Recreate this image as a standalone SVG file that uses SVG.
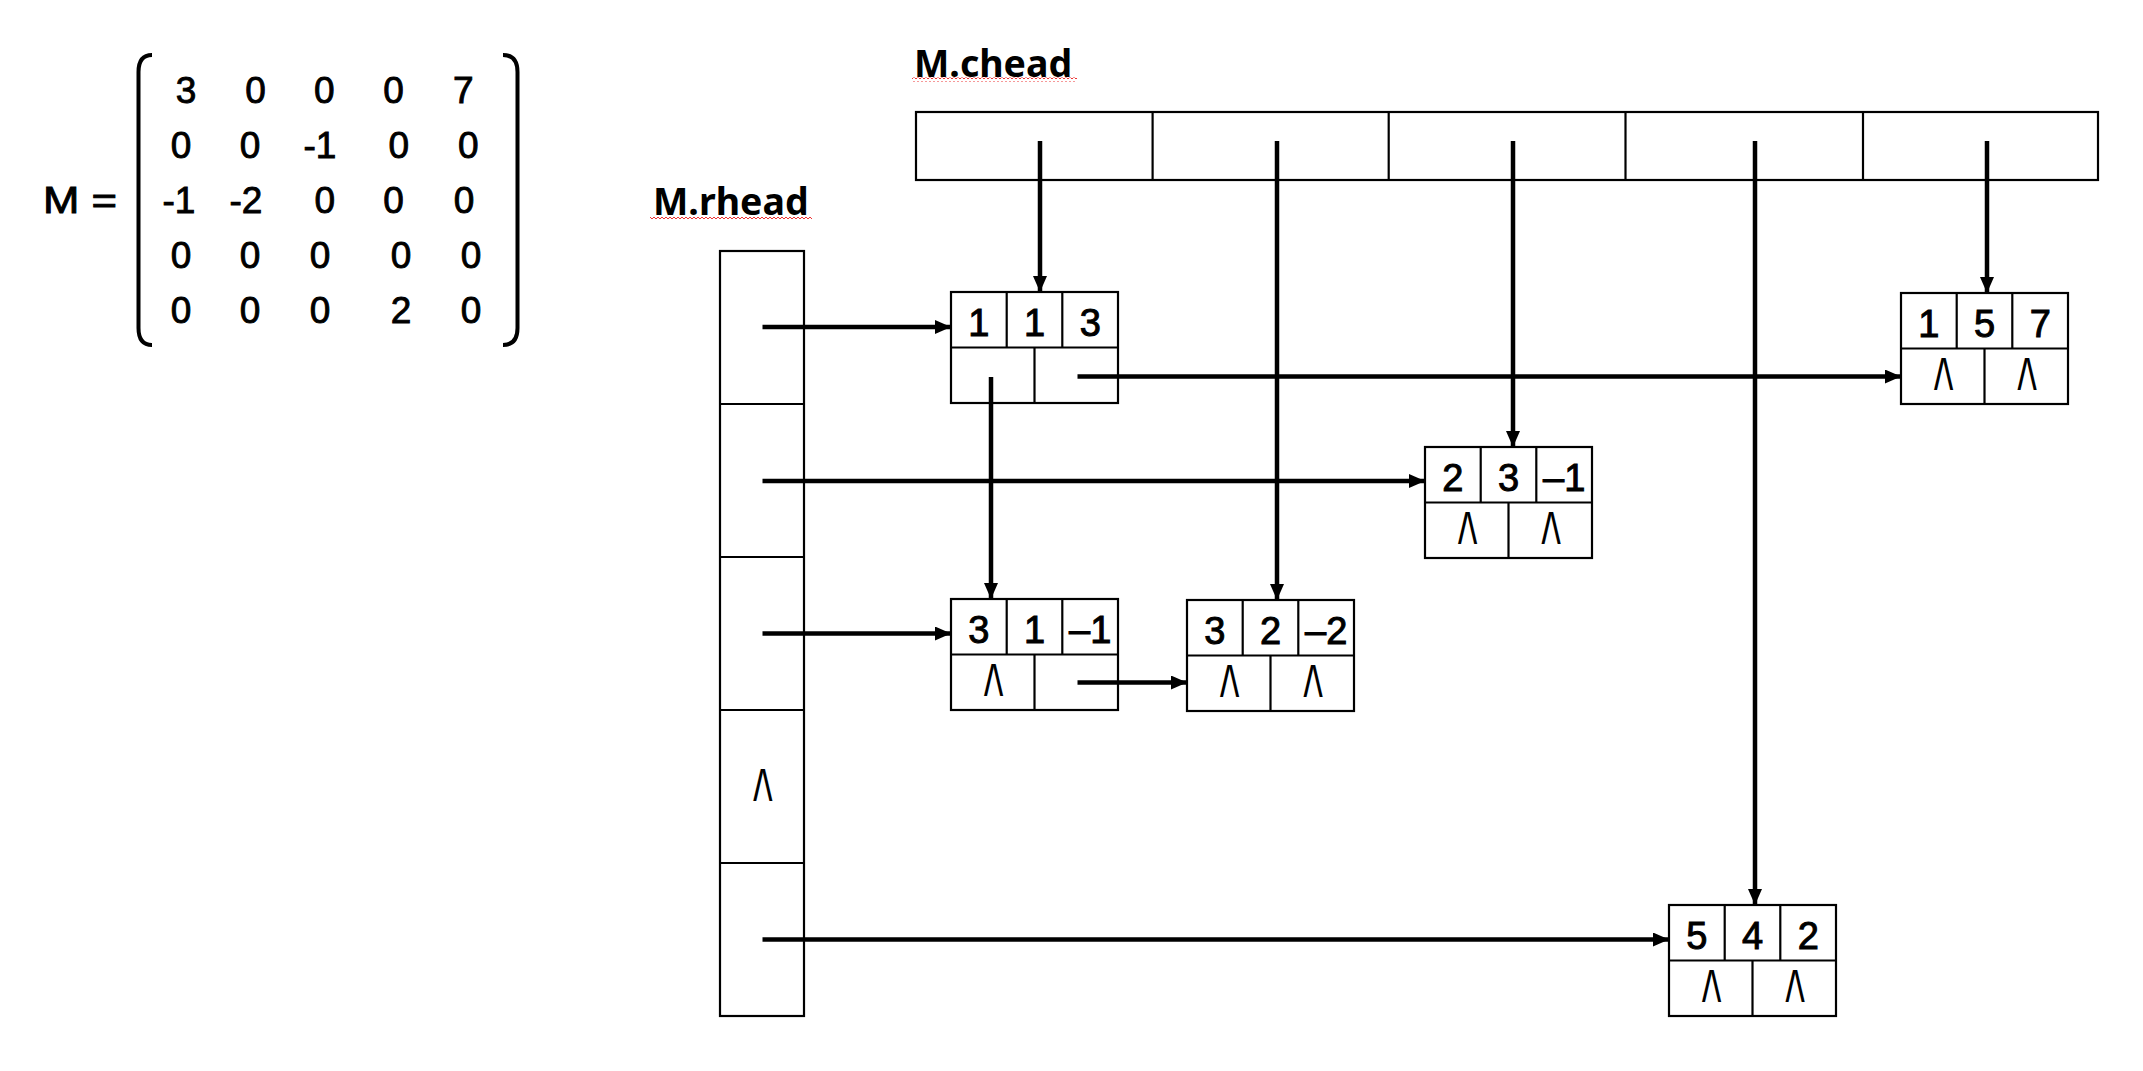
<svg xmlns="http://www.w3.org/2000/svg" width="2143" height="1071" viewBox="0 0 2143 1071">
<style>
.box{fill:#fff;stroke:#000;stroke-width:2.2}
.div{stroke:#000;stroke-width:2.2}
.t{font-family:"Liberation Sans",Arial,sans-serif;font-size:38px;fill:#000;stroke:#000;stroke-width:1;text-anchor:middle}
.m{font-family:"Liberation Sans",Arial,sans-serif;font-size:37px;fill:#000;stroke:#000;stroke-width:0.9;text-anchor:middle}
.lbl{font-family:"Noto Sans","Liberation Sans",sans-serif;font-size:37.5px;font-weight:bold;fill:#000}
.nil{font-family:"Liberation Sans",Arial,sans-serif;font-size:44px;letter-spacing:-2px;fill:#000;text-anchor:middle}
.arr{stroke:#000;stroke-width:4.5;fill:none}
.br{stroke:#000;stroke-width:4;fill:none}
</style>
<defs>
<marker id="ah" markerUnits="userSpaceOnUse" markerWidth="16" markerHeight="14" refX="16" refY="7" orient="auto">
<path d="M0,0 L16,7 L0,14 z" fill="#000"/>
</marker>
<pattern id="wavy" width="4" height="4" patternUnits="userSpaceOnUse">
<path d="M0,3 L2,1 L4,3" stroke="#e33" stroke-width="1" fill="none"/>
</pattern>
</defs>
<rect width="2143" height="1071" fill="#fff"/>

<g id="matrix">
<text class="m" x="80" y="213.3" textLength="74" lengthAdjust="spacingAndGlyphs">M =</text>
<path class="br" d="M152,55 Q138.5,55 138.5,72 L138.5,328 Q138.5,345 152,345"/>
<path class="br" d="M503,55 Q517.5,55 517.5,72 L517.5,328 Q517.5,345 503,345"/>
<text class="m" x="186" y="103.3">3</text><text class="m" x="255.5" y="103.3">0</text><text class="m" x="324.4" y="103.3">0</text><text class="m" x="393.6" y="103.3">0</text><text class="m" x="463.2" y="103.3">7</text>
<text class="m" x="181" y="158.3">0</text><text class="m" x="250" y="158.3">0</text><text class="m" x="320" y="158.3">-1</text><text class="m" x="398.8" y="158.3">0</text><text class="m" x="468.3" y="158.3">0</text>
<text class="m" x="179" y="213.3">-1</text><text class="m" x="246" y="213.3">-2</text><text class="m" x="324.7" y="213.3">0</text><text class="m" x="393.6" y="213.3">0</text><text class="m" x="464" y="213.3">0</text>
<text class="m" x="181" y="268.3">0</text><text class="m" x="250" y="268.3">0</text><text class="m" x="320" y="268.3">0</text><text class="m" x="401" y="268.3">0</text><text class="m" x="471" y="268.3">0</text>
<text class="m" x="181" y="323.3">0</text><text class="m" x="250" y="323.3">0</text><text class="m" x="320" y="323.3">0</text><text class="m" x="401" y="323.3">2</text><text class="m" x="471" y="323.3">0</text>
</g>

<g id="chead">
<text class="lbl" x="914" y="76.7">M.chead</text>
<rect x="912" y="77.5" width="165" height="4" fill="url(#wavy)"/>
<rect class="box" x="916" y="112" width="1182" height="68"/>
<line class="div" x1="1152.6" y1="112" x2="1152.6" y2="180"/>
<line class="div" x1="1388.7" y1="112" x2="1388.7" y2="180"/>
<line class="div" x1="1625.5" y1="112" x2="1625.5" y2="180"/>
<line class="div" x1="1863" y1="112" x2="1863" y2="180"/>
</g>

<g id="rhead">
<text class="lbl" x="653" y="215">M.rhead</text>
<rect x="650" y="215.5" width="162" height="4" fill="url(#wavy)"/>
<rect class="box" x="720" y="251" width="84" height="765"/>
<line class="div" x1="720" y1="404" x2="804" y2="404"/>
<line class="div" x1="720" y1="557" x2="804" y2="557"/>
<line class="div" x1="720" y1="710" x2="804" y2="710"/>
<line class="div" x1="720" y1="863" x2="804" y2="863"/>
<text class="nil" transform="translate(762,801) scale(0.85,1)">/\</text>
</g>

<g id="nodeA" transform="translate(951,292)">
<rect class="box" x="0" y="0" width="167" height="111"/>
<line class="div" x1="0" y1="55.5" x2="167" y2="55.5"/>
<line class="div" x1="55.7" y1="0" x2="55.7" y2="55.5"/>
<line class="div" x1="111.3" y1="0" x2="111.3" y2="55.5"/>
<line class="div" x1="83.5" y1="55.5" x2="83.5" y2="111"/>
<text class="t" x="27.8" y="44">1</text><text class="t" x="83.5" y="44">1</text><text class="t" x="139.2" y="44">3</text>
</g>

<g id="nodeB" transform="translate(1425,447)">
<rect class="box" x="0" y="0" width="167" height="111"/>
<line class="div" x1="0" y1="55.5" x2="167" y2="55.5"/>
<line class="div" x1="55.7" y1="0" x2="55.7" y2="55.5"/>
<line class="div" x1="111.3" y1="0" x2="111.3" y2="55.5"/>
<line class="div" x1="83.5" y1="55.5" x2="83.5" y2="111"/>
<text class="t" x="27.8" y="44">2</text><text class="t" x="83.5" y="44">3</text><text class="t" x="139.2" y="44">–1</text>
<text class="nil" transform="translate(41.75,97) scale(0.85,1)">/\</text><text class="nil" transform="translate(125.25,97) scale(0.85,1)">/\</text>
</g>

<g id="nodeC" transform="translate(951,599)">
<rect class="box" x="0" y="0" width="167" height="111"/>
<line class="div" x1="0" y1="55.5" x2="167" y2="55.5"/>
<line class="div" x1="55.7" y1="0" x2="55.7" y2="55.5"/>
<line class="div" x1="111.3" y1="0" x2="111.3" y2="55.5"/>
<line class="div" x1="83.5" y1="55.5" x2="83.5" y2="111"/>
<text class="t" x="27.8" y="44">3</text><text class="t" x="83.5" y="44">1</text><text class="t" x="139.2" y="44">–1</text>
<text class="nil" transform="translate(41.75,97) scale(0.85,1)">/\</text>
</g>

<g id="nodeD" transform="translate(1187,600)">
<rect class="box" x="0" y="0" width="167" height="111"/>
<line class="div" x1="0" y1="55.5" x2="167" y2="55.5"/>
<line class="div" x1="55.7" y1="0" x2="55.7" y2="55.5"/>
<line class="div" x1="111.3" y1="0" x2="111.3" y2="55.5"/>
<line class="div" x1="83.5" y1="55.5" x2="83.5" y2="111"/>
<text class="t" x="27.8" y="44">3</text><text class="t" x="83.5" y="44">2</text><text class="t" x="139.2" y="44">–2</text>
<text class="nil" transform="translate(41.75,97) scale(0.85,1)">/\</text><text class="nil" transform="translate(125.25,97) scale(0.85,1)">/\</text>
</g>

<g id="nodeE" transform="translate(1901,293)">
<rect class="box" x="0" y="0" width="167" height="111"/>
<line class="div" x1="0" y1="55.5" x2="167" y2="55.5"/>
<line class="div" x1="55.7" y1="0" x2="55.7" y2="55.5"/>
<line class="div" x1="111.3" y1="0" x2="111.3" y2="55.5"/>
<line class="div" x1="83.5" y1="55.5" x2="83.5" y2="111"/>
<text class="t" x="27.8" y="44">1</text><text class="t" x="83.5" y="44">5</text><text class="t" x="139.2" y="44">7</text>
<text class="nil" transform="translate(41.75,97) scale(0.85,1)">/\</text><text class="nil" transform="translate(125.25,97) scale(0.85,1)">/\</text>
</g>

<g id="nodeF" transform="translate(1669,905)">
<rect class="box" x="0" y="0" width="167" height="111"/>
<line class="div" x1="0" y1="55.5" x2="167" y2="55.5"/>
<line class="div" x1="55.7" y1="0" x2="55.7" y2="55.5"/>
<line class="div" x1="111.3" y1="0" x2="111.3" y2="55.5"/>
<line class="div" x1="83.5" y1="55.5" x2="83.5" y2="111"/>
<text class="t" x="27.8" y="44">5</text><text class="t" x="83.5" y="44">4</text><text class="t" x="139.2" y="44">2</text>
<text class="nil" transform="translate(41.75,97) scale(0.85,1)">/\</text><text class="nil" transform="translate(125.25,97) scale(0.85,1)">/\</text>
</g>

<g id="connectors">
<line class="arr" x1="1040" y1="141" x2="1040" y2="292" marker-end="url(#ah)"/>
<line class="arr" x1="1277" y1="141" x2="1277" y2="600" marker-end="url(#ah)"/>
<line class="arr" x1="1513" y1="141" x2="1513" y2="447" marker-end="url(#ah)"/>
<line class="arr" x1="1755" y1="141" x2="1755" y2="905" marker-end="url(#ah)"/>
<line class="arr" x1="1987" y1="141" x2="1987" y2="293" marker-end="url(#ah)"/>
<line class="arr" x1="762.5" y1="327" x2="951" y2="327" marker-end="url(#ah)"/>
<line class="arr" x1="762.5" y1="481" x2="1425" y2="481" marker-end="url(#ah)"/>
<line class="arr" x1="762.5" y1="633.5" x2="951" y2="633.5" marker-end="url(#ah)"/>
<line class="arr" x1="762.5" y1="939.5" x2="1669" y2="939.5" marker-end="url(#ah)"/>
<line class="arr" x1="1077.5" y1="376.5" x2="1901" y2="376.5" marker-end="url(#ah)"/>
<line class="arr" x1="991" y1="377" x2="991" y2="599" marker-end="url(#ah)"/>
<line class="arr" x1="1077.5" y1="682.5" x2="1187" y2="682.5" marker-end="url(#ah)"/>
</g>
</svg>
